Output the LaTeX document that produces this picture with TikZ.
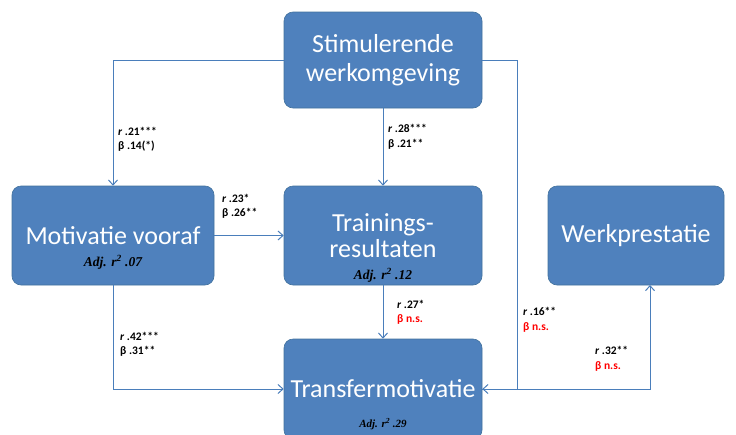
\documentclass[tikz,border=0pt]{standalone}
\usepackage{fontspec}
\setmainfont{Carlito}
\newfontfamily\labfont{Carlito}
\newfontfamily\adjfont{Liberation Serif}
\usetikzlibrary{arrows.meta}
\definecolor{boxblue}{HTML}{4F81BD}
\definecolor{boxedge}{HTML}{41719C}
\definecolor{lineblue}{HTML}{4A7EBB}
\definecolor{nsred}{HTML}{FF0000}
\begin{document}
\begin{tikzpicture}[x=1pt,y=-1pt,
  box/.style={draw=boxedge, line width=0.6pt, fill=boxblue, rounded corners=9pt, text=white,
    font=\fontsize{26}{29}\selectfont, align=center, inner sep=0pt},
  conn/.style={draw=lineblue, line width=1pt, -{Straight Barb[length=5pt,width=9pt]}},
  coef/.style={font=\labfont\bfseries\fontsize{11.5}{14.5}\selectfont, anchor=west, align=left, inner sep=0pt},
  adj/.style={font=\adjfont\bfseries\itshape\fontsize{13.5}{16}\selectfont, text=black, inner sep=0pt},
  ns/.style={text=nsred}]
\useasboundingbox (0,0) rectangle (736,434);
\node[box, minimum width=198pt, minimum height=96pt] (stim) at (383,60) {Stimulerende\\werkomgeving};
\node[box, minimum width=202pt, minimum height=99pt] (motiv) at (113,235.5) {Motivatie vooraf};
\node[box, minimum width=198pt, minimum height=99pt] (train) at (383,235.5) {Trainings-\\[-3pt]resultaten};
\node[box, minimum width=176pt, minimum height=99pt] (werk) at (636,235.5) {Werkprestatie};
\node[box, minimum width=198pt, minimum height=100pt] (transf) at (383,389) {Transfermotivatie};
\node[adj] (adjm) at (113,262) {Adj. r\textsuperscript{2} .07};
\node[adj] (adjt) at (383,275) {Adj. r\textsuperscript{2} .12};
\node[adj, font=\adjfont\bfseries\itshape\fontsize{11}{13}\selectfont] (adjx) at (383,424) {Adj. r\textsuperscript{2} .29};
\coordinate (sr) at (517,60);
\coordinate (wk) at (650,285);
\draw[conn] (stim.west) -| (motiv.north);
\draw[conn] (stim.south) -- (train.north);
\draw[conn] (stim.east) -- (sr) |- (transf.east);
\draw[conn] (motiv.east) -- (train.west);
\draw[conn] (motiv.south) |- (transf.west);
\draw[conn] (train.south) -- (transf.north);
\draw[conn] (transf.east) -| (wk);
\node[coef] (l1) at (118,139.5) {\textit{r} .21***\\β .14(*)};
\node[coef] (l2) at (388,137) {\textit{r} .28***\\β .21**};
\node[coef] (l3) at (222,206.5) {\textit{r} .23*\\β .26**};
\node[coef] (l4) at (120,344.5) {\textit{r} .42***\\β .31**};
\node[coef] (l5) at (397,312.5) {\textit{r} .27*\\\textcolor{nsred}{β n.s.}};
\node[coef] (l6) at (523,320) {\textit{r} .16**\\\textcolor{nsred}{β n.s.}};
\node[coef] (l7) at (595,359) {\textit{r} .32**\\\textcolor{nsred}{β n.s.}};
\end{tikzpicture}
\end{document}
